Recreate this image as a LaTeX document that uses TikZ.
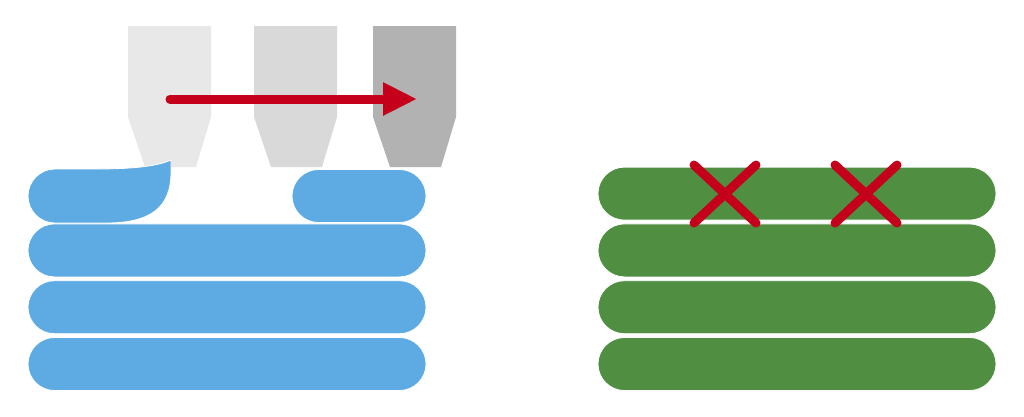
\documentclass[tikz,border=0pt]{standalone}
\usetikzlibrary{arrows.meta,positioning}
\definecolor{filablue}{RGB}{93,171,226}
\definecolor{filagreen}{RGB}{80,142,66}
\definecolor{errred}{RGB}{196,0,26}
\tikzset{
    layer/.style={rectangle, rounded corners=26.5pt, minimum width=398pt, minimum height=53pt,
        draw=white, line width=0.8pt, inner sep=0pt}, % one printed line
    bluelayer/.style={layer, fill=filablue},
    greenlayer/.style={layer, fill=filagreen},
    move/.style={errred, line width=9pt, line cap=round, -{Triangle[length=34pt,width=31pt]}}, % nozzle travel
    cross/.style={errred, line width=9pt, line cap=round},
}
\begin{document}
\begin{tikzpicture}[x=1pt,y=-1pt]
  \useasboundingbox (0,0) rectangle (1024,416);

  % nozzle positions, left to right
  \foreach \x/\shade in {128/gray!18, 254/gray!30, 373/gray!60}
    \fill[\shade] (\x,26) -- ++(83,0) -- ++(0,91) -- ++(-15,50) -- ++(-51,0) -- ++(-17,-50) -- cycle;

  \coordinate (from) at (170,99);
  \coordinate (to)   at (417,99);
  \draw[move] (from) -- (to);

  % left stack
  \node[bluelayer] (b1) at (227,364) {};
  \node[bluelayer, above=3pt of b1] (b2) {};
  \node[bluelayer, above=3pt of b2] (b3) {};
  \node[bluelayer, minimum width=134pt] (b4) at (359,196) {};
  % string pulled by the nozzle
  \fill[filablue, draw=white, line width=0.8pt] (55,169) -- (95,169)
    .. controls (135,169) and (158,166) .. (171,160) -- (171,172)
    .. controls (171,208) and (150,223) .. (106,223) -- (55,223)
    arc[start angle=90, end angle=270, radius=27] -- cycle;

  % right stack
  \node[greenlayer] (g1) at (797,364) {};
  \node[greenlayer, above=3pt of g1] (g2) {};
  \node[greenlayer, above=3pt of g2] (g3) {};
  \node[greenlayer, above=3pt of g3] (g4) {};

  \foreach \cx in {725,866} {
    \draw[cross] (\cx-31,165) -- (\cx+31,223);
    \draw[cross] (\cx-31,223) -- (\cx+31,165);
  }
\end{tikzpicture}
\end{document}
